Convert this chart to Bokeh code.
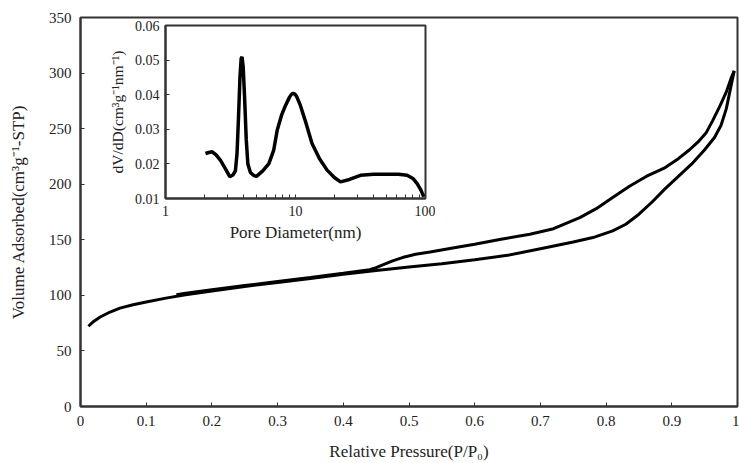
from bokeh.plotting import figure
from bokeh.models import FixedTicker, Range1d, CustomJSTickFormatter
from bokeh.embed import file_html
from bokeh.resources import INLINE

# ---- main isotherm data ----
p_ads = [0.012, 0.02, 0.03, 0.045, 0.06, 0.08, 0.1, 0.13, 0.16, 0.2, 0.25, 0.3, 0.35, 0.4,
         0.45, 0.5, 0.55, 0.6, 0.65, 0.7, 0.75, 0.78, 0.81, 0.83, 0.85, 0.87, 0.89, 0.91,
         0.93, 0.95, 0.965, 0.975, 0.983, 0.99, 0.995]
v_ads = [72.2, 76.5, 80.5, 85.0, 88.5, 91.5, 94.0, 97.5, 100.5, 104.0, 108.0, 111.6, 115.2, 119.0,
         122.3, 125.5, 128.5, 132.0, 136.0, 142.0, 148.0, 152.0, 158.0, 164.0, 173.0, 184.0, 196.0, 207.0,
         218.0, 231.0, 242.0, 253.0, 268.0, 288.0, 302.0]

p_des = [0.995, 0.99, 0.983, 0.973, 0.962, 0.952, 0.94, 0.927, 0.91, 0.89, 0.861, 0.835, 0.81,
         0.785, 0.76, 0.72, 0.684, 0.64, 0.6, 0.571, 0.532, 0.51, 0.49, 0.475, 0.46, 0.45, 0.44,
         0.4, 0.35, 0.3, 0.25, 0.2, 0.16, 0.146]
v_des = [302.0, 295.0, 283.0, 270.0, 257.0, 246.0, 238.0, 231.0, 223.0, 215.0, 207.0, 198.0, 188.0,
         178.0, 170.0, 160.0, 155.0, 150.5, 146.0, 143.0, 139.0, 137.0, 134.0, 131.0, 127.5, 125.0, 123.0,
         119.8, 116.0, 112.5, 108.8, 105.0, 101.8, 100.5]

x_ticks = [0, 0.1, 0.2, 0.3, 0.4, 0.5, 0.6, 0.7, 0.8, 0.9, 1.0]
y_ticks = [0, 50, 100, 150, 200, 250, 300, 350]

# ---- inset pore size distribution ----
pore_d = [2.03, 2.15, 2.29, 2.45, 2.65, 2.9, 3.12, 3.3, 3.45, 3.55, 3.64, 3.74, 3.82, 3.88,
          3.96, 4.06, 4.18, 4.3, 4.5, 4.75, 5.01, 5.6, 6.24, 6.8, 7.23, 7.8, 8.38, 9.0, 9.3,
          9.6, 9.9, 10.2, 10.9, 12.0, 13.4, 15.3, 17.5, 20.0, 22.2, 26.0, 31.6, 40.0, 50.7,
          62.0, 72.2, 80.0, 86.3, 92.0, 97.0]
dvdd = [0.0230, 0.0233, 0.0235, 0.0226, 0.0210, 0.0185, 0.0163, 0.0168, 0.0180, 0.0230, 0.0330,
        0.0450, 0.0505, 0.0509, 0.0480, 0.0390, 0.0270, 0.0200, 0.0175, 0.0167, 0.0164, 0.0180,
        0.0201, 0.0240, 0.0297, 0.0340, 0.0369, 0.0393, 0.0401, 0.0404, 0.0402, 0.0395, 0.0369,
        0.0320, 0.0259, 0.0215, 0.0182, 0.0160, 0.0148, 0.0155, 0.0167, 0.0170, 0.0170, 0.0170,
        0.0167, 0.0158, 0.0143, 0.0125, 0.0105]
inset_x_major = [1, 10, 100]
inset_x_minor = [2, 3, 4, 5, 6, 7, 8, 9, 20, 30, 40, 50, 60, 70, 80, 90]
inset_y_ticks = [0.01, 0.02, 0.03, 0.04, 0.05, 0.06]

FONT = "Liberation Serif"
INK = "#222222"

p = figure(width=739, height=463, x_range=Range1d(0, 1), y_range=Range1d(0, 350),
           output_backend="svg", toolbar_location=None,
           min_border_left=80, min_border_right=2, min_border_top=17, min_border_bottom=55,
           styles={"position": "absolute", "left": "0px", "top": "0px"})
p.xgrid.visible = False
p.ygrid.visible = False
p.outline_line_color = "#333333"
p.outline_line_width = 2

p.line(p_ads, v_ads, line_color="black", line_width=3)
p.line(p_des, v_des, line_color="black", line_width=3)

p.xaxis.ticker = FixedTicker(ticks=x_ticks)
p.xaxis.formatter = CustomJSTickFormatter(code="return String(Math.round(tick*10)/10);")
p.yaxis.ticker = FixedTicker(ticks=y_ticks)
p.xaxis.axis_label = "Relative Pressure(P/P\u2080)"
p.yaxis.axis_label = "Volume Adsorbed(cm\u00b3g\u207b\u00b9-STP)"
for ax in (p.xaxis[0], p.yaxis[0]):
    ax.axis_line_color = "#333333"
    ax.axis_line_width = 2
    ax.major_tick_in = 4
    ax.major_tick_out = 0
    ax.major_tick_line_color = "#333333"
    ax.minor_tick_line_color = None
    ax.major_label_text_font = FONT
    ax.major_label_text_font_size = "15px"
    ax.major_label_text_color = INK
    ax.axis_label_text_font = FONT
    ax.axis_label_text_font_size = "17px"
    ax.axis_label_text_font_style = "normal"
    ax.axis_label_text_color = INK
p.xaxis.major_label_standoff = 9
p.xaxis.axis_label_standoff = 13
p.yaxis.major_label_standoff = 9
p.yaxis.axis_label_standoff = 18

# inset
q = figure(width=335, height=235, x_axis_type="log", x_range=Range1d(1, 100),
           y_range=Range1d(0.01, 0.06), output_backend="svg", toolbar_location=None,
           min_border_left=65, min_border_right=10, min_border_top=15, min_border_bottom=47,
           styles={"position": "absolute", "left": "100px", "top": "10px"})
q.background_fill_alpha = 0
q.border_fill_alpha = 0
q.xgrid.visible = False
q.ygrid.visible = False
q.outline_line_color = "#333333"
q.outline_line_width = 2
q.line(pore_d, dvdd, line_color="black", line_width=3.5)

q.xaxis.ticker = FixedTicker(ticks=inset_x_major, minor_ticks=inset_x_minor)
q.xaxis.formatter = CustomJSTickFormatter(code="return String(tick);")
q.yaxis.ticker = FixedTicker(ticks=inset_y_ticks)
q.yaxis.formatter = CustomJSTickFormatter(code="return tick.toFixed(2);")
q.xaxis.axis_label = "Pore Diameter(nm)"
q.yaxis.axis_label = "dV/dD(cm\u00b3g\u207b\u00b9nm\u207b\u00b9)"
for ax in (q.xaxis[0], q.yaxis[0]):
    ax.axis_line_color = "#333333"
    ax.axis_line_width = 2
    ax.major_tick_in = 4
    ax.major_tick_out = 0
    ax.major_tick_line_color = "#333333"
    ax.major_label_text_font = FONT
    ax.major_label_text_font_size = "14px"
    ax.major_label_text_color = INK
    ax.axis_label_text_font = FONT
    ax.axis_label_text_font_style = "normal"
    ax.axis_label_text_color = INK
q.xaxis.axis_label_text_font_size = "17px"
q.yaxis.axis_label_text_font_size = "15.5px"
q.xaxis.minor_tick_in = 4
q.xaxis.minor_tick_out = 0
q.xaxis.minor_tick_line_color = "#333333"
q.yaxis.minor_tick_line_color = None
q.xaxis.major_label_standoff = 7
q.xaxis.axis_label_standoff = 4
q.yaxis.major_label_standoff = 6
q.yaxis.axis_label_standoff = 6

open("out.html", "w").write(file_html([p, q], INLINE))
